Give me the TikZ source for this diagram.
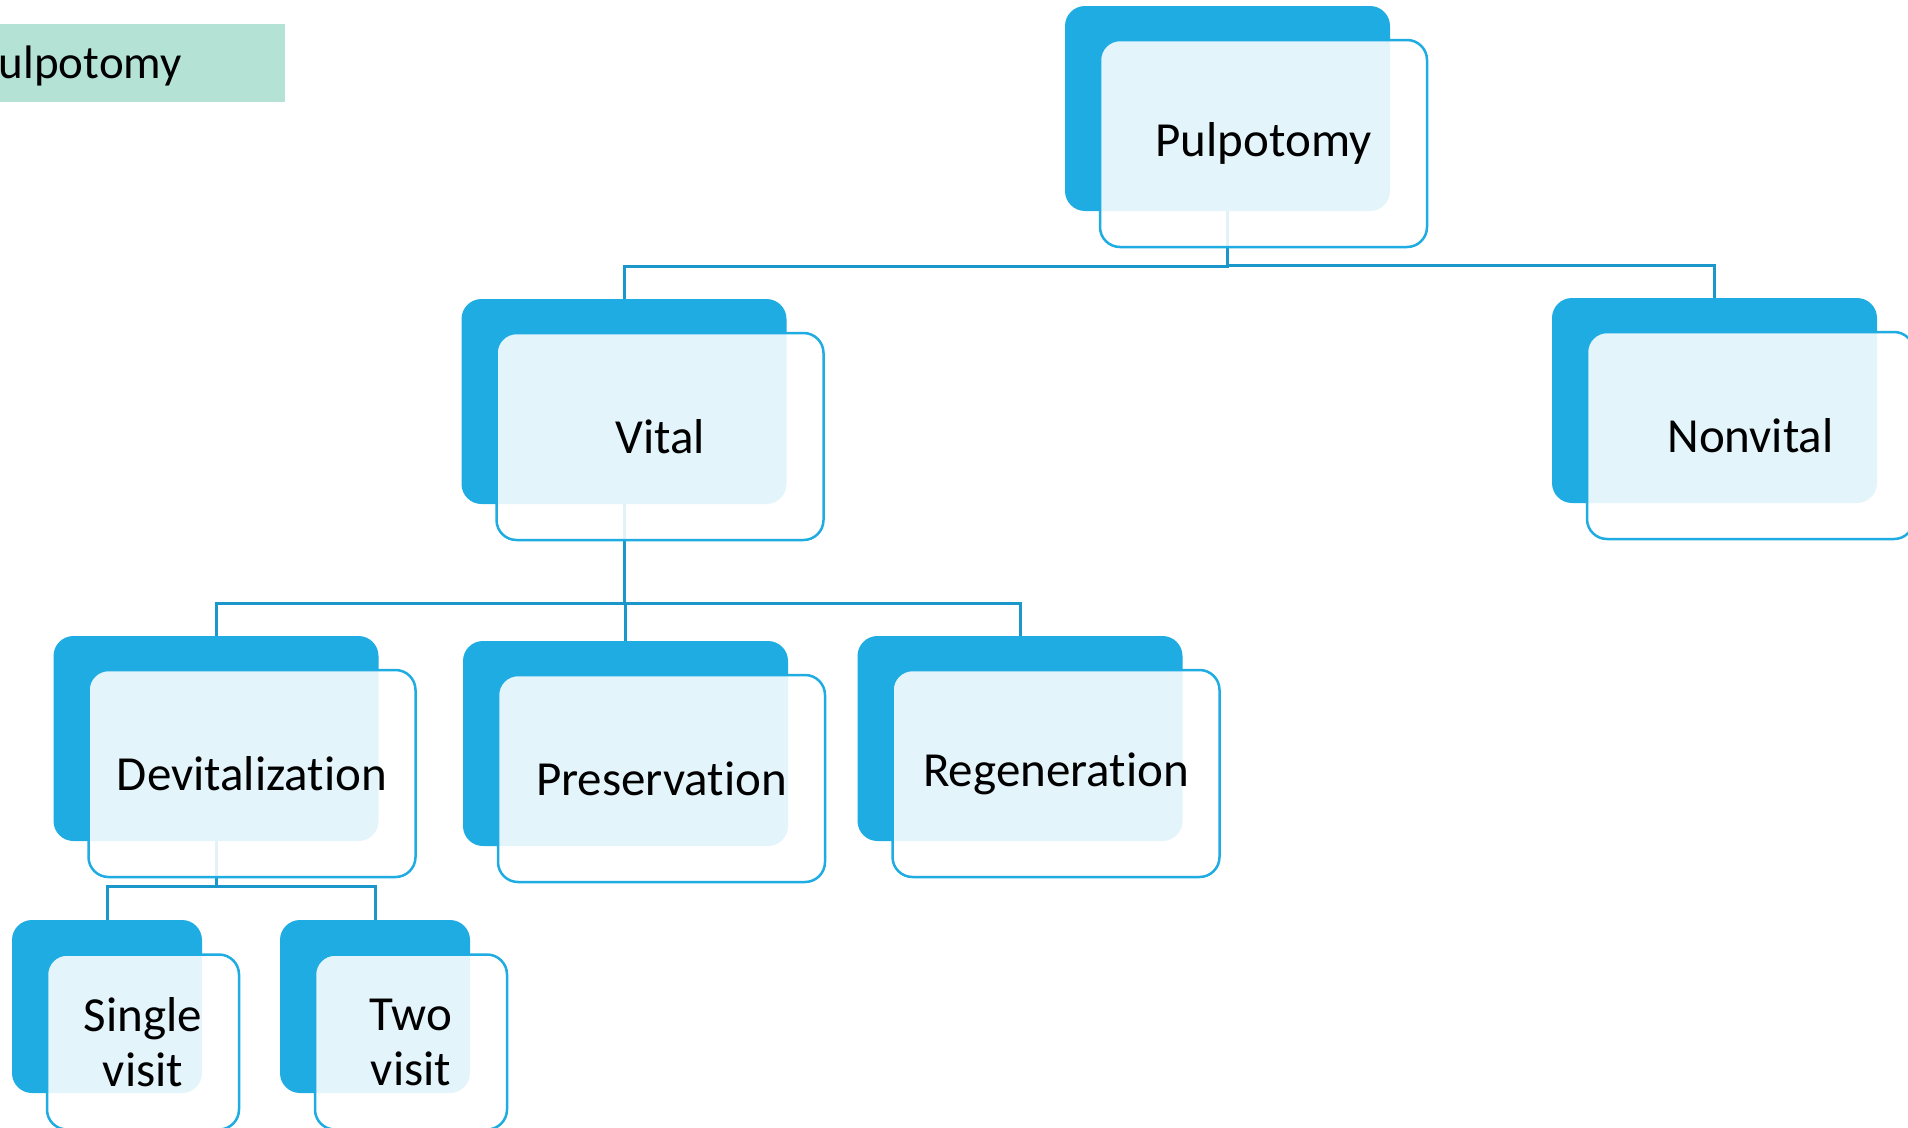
\documentclass[tikz,border=0pt]{standalone}
\usepackage{fontspec}
\setmainfont[Ligatures=NoCommon]{Carlito}
\usetikzlibrary{positioning}
\definecolor{boxblue}{HTML}{1FACE2}
\definecolor{linkblue}{HTML}{1C97CB}
\definecolor{tagmint}{HTML}{B4E3D6}
\pgfdeclarelayer{bg}
\pgfsetlayers{bg,main}

\begin{document}
\begin{tikzpicture}[x=1pt,y=1pt,
  back/.style={rectangle,rounded corners=20pt,fill=boxblue,inner sep=0pt,minimum width=325pt,minimum height=205pt},
  smallback/.style={minimum width=190pt,minimum height=173pt},
  front/.style={rectangle,rounded corners=20pt,draw=boxblue,line width=2.5pt,fill=white,fill opacity=0.88,text opacity=1,inner sep=0pt,minimum width=327pt,minimum height=207pt,align=center,font=\fontsize{49}{55}\selectfont},
  smallfront/.style={minimum width=192pt,minimum height=175pt},
  link/.style={draw=linkblue,line width=3pt}]
\useasboundingbox (0,0) rectangle (1908,-1127);
\clip (0,0) rectangle (1908,-1127);

% title tag, cut at the left edge
\fill[tagmint] (0,-24) rectangle (285,-102);
\node[anchor=base east,inner sep=0pt,font=\fontsize{47}{55}\selectfont] (tag) at (182,-78) {Pulpotomy};

% boxes
\node[back] (root) at (1227.5,-108.5) {};
\node[front,xshift=36pt,yshift=-35pt] (root txt) at (root) {Pulpotomy};

\node[back] (vital) at (624,-401.5) {};
\node[front,xshift=36pt,yshift=-35pt] (vital txt) at (vital) {Vital};

\node[back] (nonvital) at (1714.5,-400.5) {};
\node[front,xshift=36pt,yshift=-35pt] (nonvital txt) at (nonvital) {Nonvital};

\node[back] (devit) at (216,-738.5) {};
\node[front,xshift=36pt,yshift=-35pt] (devit txt) at (devit) {Devitalization};

\node[back] (preserv) at (625.5,-743.5) {};
\node[front,xshift=36pt,yshift=-35pt] (preserv txt) at (preserv) {Preservation};

\node[back] (regen) at (1020,-738.5) {};
\node[front,xshift=36pt,yshift=-35pt] (regen txt) at (regen) {Regeneration};

\node[back,smallback] (single) at (107,-1006.5) {};
\node[front,smallfront,xshift=36pt,yshift=-35.5pt] (single txt) at (single) {Single\\visit};

\node[back,smallback] (two) at (375,-1006.5) {};
\node[front,smallfront,xshift=36pt,yshift=-35.5pt] (two txt) at (two) {Two\\visit};

% connectors
\begin{pgfonlayer}{bg}
\draw[link] (vital.north) -- ++(0,32) -| (root.south);
\draw[link] (nonvital.north) -- ++(0,32) -| (root.south);
\draw[link] (devit.north) -- ++(0,32) -| (vital.south);
\draw[link] (preserv.north) -- ++(0,37) -| (vital.south);
\draw[link] (regen.north) -- ++(0,32) -| (vital.south);
\draw[link] (single.north) -- ++(0,33) -| (devit.south);
\draw[link] (two.north) -- ++(0,33) -| (devit.south);
\end{pgfonlayer}
\end{tikzpicture}
\end{document}
